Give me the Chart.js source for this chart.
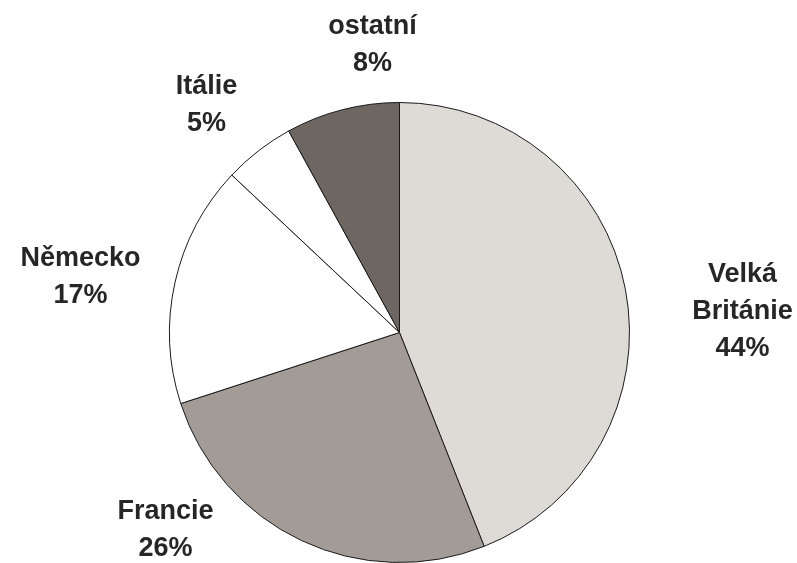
<!DOCTYPE html>
<html>
<head>
<meta charset="utf-8">
<script src="https://cdn.jsdelivr.net/npm/chart.js@4/dist/chart.umd.min.js"></script>
<style>
  html, body { margin: 0; padding: 0; background: #fff; }
  #wrap { width: 797px; height: 563px; }
</style>
</head>
<body>
<div id="wrap"><canvas id="chart"></canvas></div>
<script>
// data
const countries = ["Velká Británie", "Francie", "Německo", "Itálie", "ostatní"];
const shares = [44, 26, 17, 5, 8];
// label lines as printed (the long name wraps)
const labelLines = [["Velká", "Británie"], ["Francie"], ["Německo"], ["Itálie"], ["ostatní"]];

// slice fills, grey tones of the scanned print
const fills = ["#dedad6", "#a39b96", "#ffffff", "#ffffff", "#6e6660"];
// where each label block sits, relative to pie centre in radius units
const labelOffsets = [[1.491, -0.093], [-1.017, 0.859], [-1.387, -0.243], [-0.839, -0.991], [-0.117, -1.248]];

// Draw the category + percent labels next to each slice
const sliceLabels = {
  id: "sliceLabels",
  afterDatasetsDraw(chart) {
    const ctx = chart.ctx;
    const arc = chart.getDatasetMeta(0).data[0];
    if (!arc) return;
    const cx = arc.x, cy = arc.y, r = arc.outerRadius;
    const lineH = 37;
    ctx.save();
    ctx.font = "bold 27px 'Liberation Sans', Arial, sans-serif";
    ctx.fillStyle = "#262626";
    ctx.textAlign = "center";
    ctx.textBaseline = "middle";
    shares.forEach((v, i) => {
      const lines = labelLines[i].concat([v + "%"]);
      const bx = cx + labelOffsets[i][0] * r;
      const by = cy + labelOffsets[i][1] * r;
      const top = by - (lines.length - 1) * lineH / 2;
      lines.forEach((t, k) => ctx.fillText(t, bx, top + k * lineH));
    });
    ctx.restore();
  }
};

new Chart(document.getElementById("chart"), {
  type: "pie",
  data: {
    labels: countries,
    datasets: [{
      data: shares,
      backgroundColor: fills,
      borderColor: "#1a1a1a",
      borderWidth: 1
    }]
  },
  options: {
    responsive: true,
    maintainAspectRatio: false,
    animation: false,
    layout: { padding: { top: 102, bottom: 0, left: 169, right: 167 } },
    plugins: {
      legend: { display: false },
      tooltip: { enabled: false }
    }
  },
  plugins: [sliceLabels]
});
</script>
</body>
</html>
